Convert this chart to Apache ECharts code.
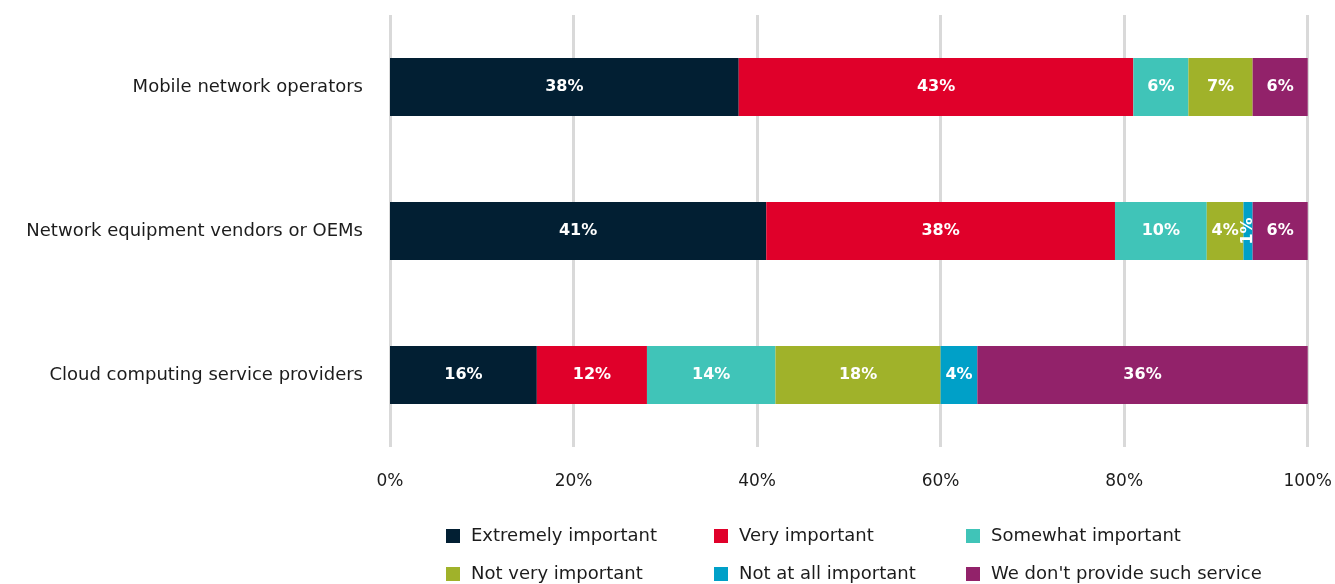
<!DOCTYPE html>
<html>
<head>
<meta charset="utf-8">
<script src="https://cdn.jsdelivr.net/npm/echarts@6/dist/echarts.min.js"></script>
<style>
  html, body { margin: 0; padding: 0; background: #ffffff; }
  #chart { width: 1335px; height: 584px; }
</style>
</head>
<body>
<div id="chart"></div>
<script>
// Respondent groups (top to bottom)
const categories = [
  'Mobile network operators',
  'Network equipment vendors or OEMs',
  'Cloud computing service providers'
];

// Share of answers per rating, in percent, one value per group
const extremelyImportant = [38, 41, 16];
const veryImportant      = [43, 38, 12];
const somewhatImportant  = [6, 10, 14];
const notVeryImportant   = [7, 4, 18];
const notAtAllImportant  = [0, 1, 4];
const noSuchService      = [6, 6, 36];

const seriesNames = [
  'Extremely important',
  'Very important',
  'Somewhat important',
  'Not very important',
  'Not at all important',
  "We don't provide such service"
];
const seriesValues = [
  extremelyImportant, veryImportant, somewhatImportant,
  notVeryImportant, notAtAllImportant, noSuchService
];
const colors = ['#021f33', '#e0002a', '#40c4b8', '#a0b22a', '#00a0c8', '#92226a'];

const xTicks = [0, 20, 40, 60, 80, 100];

const FONT = '"DejaVu Sans", "Open Sans", sans-serif';
const TEXT = '#1c1c1c';

const chart = echarts.init(document.getElementById('chart'), null, { renderer: 'canvas' });

const series = seriesNames.map((name, i) => ({
  name,
  type: 'bar',
  stack: 'total',
  barWidth: 58,
  itemStyle: { color: colors[i] },
  data: seriesValues[i].map(v => {
    const item = { value: v };
    if (v === 0) item.label = { show: false };
    // very thin segments get a sideways label
    if (v > 0 && v < 2) item.label = { show: true, rotate: 90 };
    return item;
  }),
  label: {
    show: true,
    position: 'inside',
    color: '#ffffff',
    fontFamily: FONT,
    fontWeight: 'bold',
    fontSize: 16,
    formatter: p => p.value + '%'
  },
  emphasis: { disabled: true }
}));

// Legend entries sit in a 3-column, 2-row grid below the plot
const legendLeft = [446, 714, 966];
const legendTop = [527, 565];
const legends = seriesNames.map((name, i) => ({
  orient: 'horizontal',
  left: legendLeft[i % 3],
  top: legendTop[Math.floor(i / 3)],
  padding: 0,
  itemWidth: 14,
  itemHeight: 14,
  itemGap: 0,
  icon: 'rect',
  selectedMode: false,
  data: [name],
  textStyle: { fontFamily: FONT, fontSize: 18, color: TEXT, padding: [0, 0, 0, 6] }
}));

chart.setOption({
  animation: false,
  color: colors,
  grid: { left: 390, right: 27, top: 15, bottom: 137, containLabel: false },
  legend: legends,
  xAxis: {
    type: 'value',
    min: 0,
    max: 100,
    interval: 20,
    axisLine: { show: false },
    axisTick: { show: false },
    splitLine: { show: true, lineStyle: { color: '#d9d9d9', width: 3 } },
    axisLabel: {
      margin: 26,
      fontFamily: FONT,
      fontSize: 17,
      color: TEXT,
      formatter: v => (xTicks.includes(v) ? v + '%' : '')
    }
  },
  yAxis: {
    type: 'category',
    inverse: true,
    data: categories,
    axisLine: { show: false },
    axisTick: { show: false },
    axisLabel: {
      margin: 27,
      fontFamily: FONT,
      fontSize: 18,
      color: TEXT
    }
  },
  series
});
</script>
</body>
</html>
